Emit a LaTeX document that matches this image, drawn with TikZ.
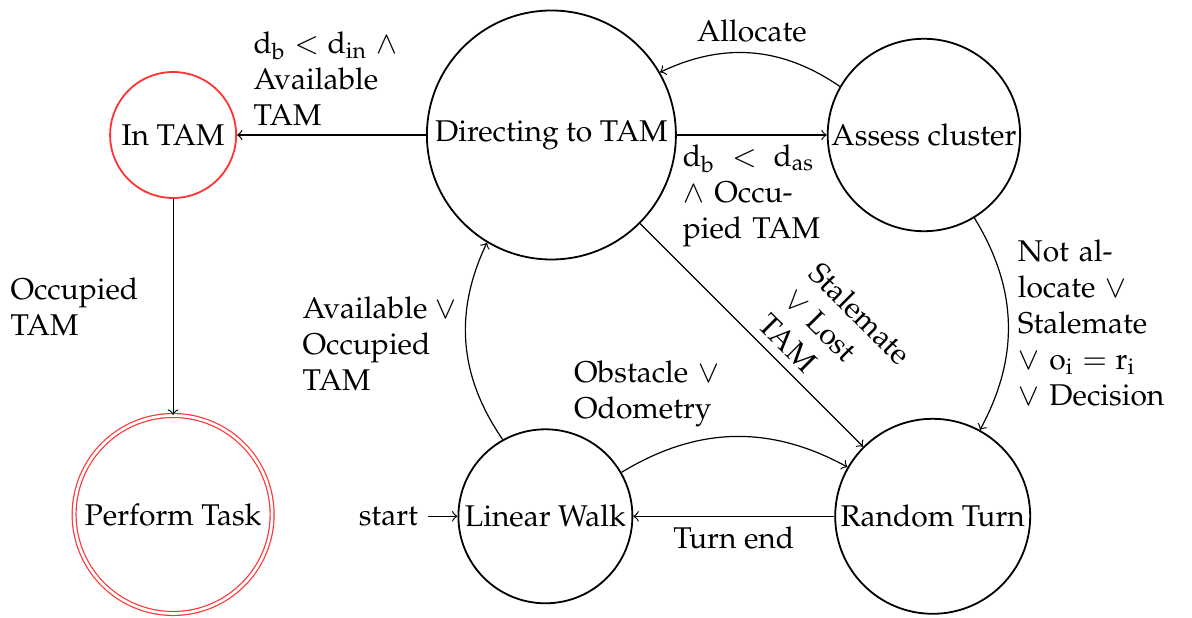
\documentclass[tikz,border=0pt]{standalone}
\usepackage[T1]{fontenc}
\usepackage{mathpazo}
\usetikzlibrary{positioning}

\begin{document}
\begin{tikzpicture}[node distance=2cm, auto,
    statenode/.style={circle, draw=black, line width=0.6pt, inner sep=1pt, font=\normalsize},
    redstate/.style={statenode, draw=red!80},
    accept/.style={circle, draw=red!80, double, line width=0.4pt, double distance=0.9pt, inner sep=1pt},
    lbl/.style={align=left, inner sep=3pt},
    line/.style={draw, ->, thin}]
    \useasboundingbox (0,0) rectangle (397.33pt,-205.67pt);
    \node [redstate, minimum size=42pt] (intam) at (57.7pt,-45pt) {In TAM};
    \node [statenode, minimum size=83pt, right=63pt of intam] (dir) {Directing to TAM};
    \node [statenode, minimum size=64pt, right=50pt of dir] (assess) {Assess cluster};
    \node [accept, minimum size=66pt, below=72pt of intam] (perform) {Perform Task};
    \node [statenode, minimum size=58pt, below=56pt of dir, xshift=-2pt] (walk) {Linear Walk};
    \node [statenode, minimum size=65pt, right=67pt of walk] (turn) {Random Turn};
    \node [left=10pt of walk, inner sep=3pt] (start) {start};
    \path [line] (start) -- (walk);
    \path [line] (dir) -- node[lbl, above, text width=52pt] {$\mathrm{d_b} < \mathrm{d_{in}} \;\wedge$\\Available\\TAM} (intam);
    \path [line] (dir) -- node[lbl, below, text width=46pt] {$\mathrm{d_b} \;<\; \mathrm{d_{as}}$\\$\wedge$ Occu-\\pied TAM} (assess);
    \path [line] (assess) to[bend right=30] node[above] {Allocate} (dir);
    \path [line] (assess) to[bend left=30] node[lbl, right, text width=50pt] {Not al-\\locate $\vee$\\Stalemate\\$\vee$ $\mathrm{o_i} = \mathrm{r_i}$\\$\vee$ Decision} (turn);
    \path [line] (dir) -- node[lbl, above, sloped, pos=0.71, text width=46pt] {Stalemate\\$\vee$ Lost\\TAM} (turn);
    \path [line] (walk) to[bend left=30] node[lbl, left] {Available $\vee$\\Occupied\\TAM} (dir);
    \path [line] (walk) to[bend left=30] node[lbl, above left, text width=50pt] {Obstacle $\vee$\\Odometry} (turn);
    \path [line] (turn) -- node[below] {Turn end} (walk);
    \path [line] (intam) -- node[lbl, left, text width=51pt] {Occupied\\TAM} (perform);
\end{tikzpicture}
\end{document}
